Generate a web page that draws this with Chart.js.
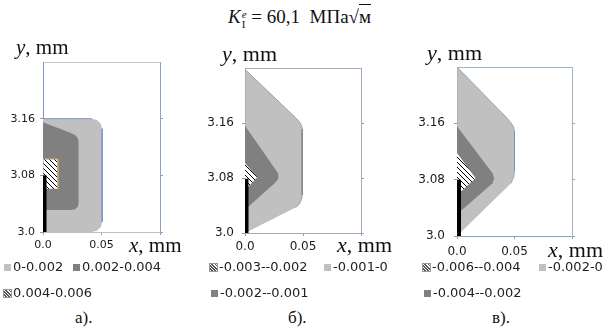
<!DOCTYPE html>
<html><head><meta charset="utf-8">
<script src="https://cdn.jsdelivr.net/npm/chart.js@4.4.0/dist/chart.umd.min.js"></script>
<style>
body{margin:0;width:605px;height:329px;background:#fff;position:relative;overflow:hidden;}
.abs{position:absolute;white-space:nowrap;}
.serif{font-family:"Liberation Serif","Times New Roman",serif;color:#111;}
.leg{font-family:"DejaVu Sans",sans-serif;font-size:13px;color:#222;line-height:16px;}
.sw{position:absolute;width:7px;height:7px;}
canvas{position:absolute;}
</style></head><body>

<canvas id="ca" width="200" height="215" style="left:0;top:40px"></canvas>
<canvas id="cb" width="200" height="215" style="left:200px;top:40px"></canvas>
<canvas id="cc" width="200" height="215" style="left:405px;top:40px"></canvas>

<div class="abs serif" style="left:228px;top:5px;font-size:19px;line-height:24px">
<i>K</i><span style="display:inline-block;vertical-align:middle;line-height:10px;font-size:11px;margin-left:1px"><i style="display:block">e</i><span style="display:block">I</span></span> = 60,1&nbsp; МПа√<span style="border-top:1px solid #111;padding-top:1px">м</span>
</div>

<div class="abs serif" style="left:16px;top:35px;font-size:21px;line-height:24px"><i>y</i>, mm</div>
<div class="abs serif" style="left:222px;top:41px;font-size:22px;line-height:26px"><i>y</i>, mm</div>
<div class="abs serif" style="left:427px;top:40px;font-size:22px;line-height:26px"><i>y</i>, mm</div>
<div class="abs serif" style="left:129px;top:232px;font-size:21px;line-height:26px"><i>x</i>, mm</div>
<div class="abs serif" style="left:337px;top:232px;font-size:22px;line-height:26px"><i>x</i>, mm</div>
<div class="abs serif" style="left:548px;top:237px;font-size:22px;line-height:26px"><i>x</i>, mm</div>

<div class="abs serif" style="left:75px;top:308px;font-size:17px;line-height:20px">а).</div>
<div class="abs serif" style="left:288px;top:308px;font-size:17px;line-height:20px">б).</div>
<div class="abs serif" style="left:492px;top:308px;font-size:17px;line-height:20px">в).</div>

<div id="legends"></div>

<script>
// ---- axes ----
const xRange = [0, 0.1];
const yRange = [3.0, 3.24];
const xTickValues = [0, 0.05, 0.1];
const xTickLabels = ['0.0', '0.05', ''];
const yTickValues = [3.0, 3.08, 3.16];
const yTickLabels = ['3.0', '3.08', '3.16'];

// ---- panel а) zones (x, y in mm) ----
const aLightZone = [[0,3.0],[0,3.16],[0.0416,3.16],[0.0461,3.1581],[0.0494,3.1529],[0.0506,3.1457],[0.0506,3.0143],[0.0494,3.0072],[0.0461,3.0019],[0.0416,3.0]];
const aDarkZone = [[0,3.031],[0,3.155],[0.0233,3.140],[0.0275,3.137],[0.0298,3.132],[0.0304,3.127],[0.0304,3.041],[0.0298,3.036],[0.0275,3.032],[0.0233,3.031]];
const aHatchZone = [[0,3.061],[0,3.103],[0.0127,3.103],[0.0127,3.061]];
const aEdgeTop = [[0,3.16],[0.0416,3.16]];
const aEdgeRight = [[0.0506,3.1457],[0.0506,3.0143]];
const aCrack = [[0,3.0],[0,3.08]];
const aLegend = ['0-0.002','0.002-0.004','0.004-0.006'];

// ---- panel б) zones ----
const bLightZone = [[0,3.0],[0,3.238],[0.0434,3.168],[0.0468,3.162],[0.0488,3.156],[0.0494,3.151],[0.0494,3.056],[0.0488,3.049],[0.0468,3.042],[0.0436,3.037]];
const bDarkZone = [[0,3.034],[0,3.156],[0.026,3.093],[0.0285,3.087],[0.029,3.083],[0.0285,3.079],[0.026,3.073]];
const bHatchZone = [[0,3.062],[0,3.102],[0.0105,3.081]];
const bEdgeRight = [[0.0494,3.151],[0.0494,3.056]];
const bCrack = [[0,3.0],[0,3.079]];
const bLegend = ['-0.003--0.002','-0.001-0','-0.002--0.001'];

// ---- panel в) zones ----
const cLightZone = [[0,3.0],[0,3.24],[0.0426,3.169],[0.0468,3.161],[0.0492,3.155],[0.05,3.148],[0.05,3.093],[0.0494,3.084],[0.047,3.075]];
const cDarkZone = [[0,3.031],[0,3.156],[0.0309,3.089],[0.0323,3.082],[0.0309,3.075]];
const cHatchZone = [[0,3.058],[0,3.118],[0.0162,3.082]];
const cEdgeRight = [[0.05,3.148],[0.05,3.093]];
const cCrack = [[0,3.0],[0,3.08]];
const cLegend = ['-0.006--0.004','-0.002-0','-0.004--0.002'];

// ---- styles ----
const LIGHT = '#c0c0c0', DARK = '#808080';
function makeHatch(){
  const t = document.createElement('canvas'); t.width = 5; t.height = 5;
  const g = t.getContext('2d');
  g.fillStyle = '#fff'; g.fillRect(0,0,5,5);
  g.strokeStyle = '#000'; g.lineWidth = 1;
  g.beginPath(); g.moveTo(-1,-1); g.lineTo(6,6); g.moveTo(-1,4); g.lineTo(1,6); g.moveTo(4,-1); g.lineTo(6,1); g.stroke();
  return g.createPattern(t, 'repeat');
}
const HATCH = makeHatch();
const pts = arr => arr.map(([x,y]) => ({x, y}));

function zone(arr, fillColor, border, order){
  return {data: pts(arr), fill: 'shape', backgroundColor: fillColor,
    borderColor: border ? border : 'rgba(0,0,0,0)', borderWidth: border ? 1 : 0,
    pointRadius: 0, tension: 0, order: order};
}
function edge(arr, color, order){
  return {data: pts(arr), fill: false, borderColor: color, borderWidth: 1, pointRadius: 0, order: order};
}

function makeChart(id, p){
  const sets = [
    zone(p.light, LIGHT, p.lightBorder, 6),
    zone(p.dark, DARK, null, 5),
    zone(p.hatch, HATCH, p.hatchBorder, 4)
  ];
  p.edges.forEach(e => sets.push(edge(e[0], e[1], 3)));
  sets.push({data: pts(p.crack), fill: false, borderColor: '#000', borderWidth: p.crackW, pointRadius: 0, order: 0, clip: 0});
  const tickFont = {family: 'DejaVu Sans', size: p.fs};
  return new Chart(document.getElementById(id), {
    type: 'line',
    data: {datasets: sets},
    options: {
      responsive: false, animation: false, devicePixelRatio: 1,
      layout: {padding: p.pad},
      plugins: {legend: {display: false}, tooltip: {enabled: false}},
      scales: {
        x: {type: 'linear', position: 'bottom', min: xRange[0], max: xRange[1],
          afterBuildTicks: s => { s.ticks = xTickValues.map(v => ({value: v})); },
          afterFit: s => { s.height = p.xh; },
          ticks: {callback: (v, i) => xTickLabels[i], font: tickFont, color: '#1a1a1a', padding: p.xpad, maxRotation: 0, autoSkip: false},
          grid: {drawOnChartArea: false, tickLength: 3, color: '#9a9a9a'},
          border: {color: p.cBottom}},
        x2: {type: 'linear', position: 'top', min: xRange[0], max: xRange[1],
          afterFit: s => { s.height = 0; },
          ticks: {display: false},
          grid: {drawOnChartArea: false, drawTicks: false},
          border: {color: p.cTop}},
        y: {type: 'linear', position: 'left', min: yRange[0], max: yRange[1],
          afterBuildTicks: s => { s.ticks = yTickValues.map(v => ({value: v})); },
          afterFit: s => { s.width = p.yw; },
          ticks: {callback: (v, i) => yTickLabels[i], font: tickFont, color: '#1a1a1a', padding: p.ypad, autoSkip: false},
          grid: {drawOnChartArea: false, tickLength: 3, color: '#9a9a9a'},
          border: {color: p.cLeft}},
        y2: {type: 'linear', position: 'right', min: yRange[0], max: yRange[1],
          afterBuildTicks: s => { s.ticks = yTickValues.map(v => ({value: v})); },
          afterFit: s => { s.width = 4; },
          ticks: {display: false},
          grid: {drawOnChartArea: false, tickLength: 3, color: '#9a9a9a'},
          border: {color: p.cRight}}
      }
    }
  });
}

makeChart('ca', {light: aLightZone, dark: aDarkZone, hatch: aHatchZone, crack: aCrack,
  edges: [[aEdgeTop, '#7d97c4'], [aEdgeRight, '#7d97c4']], hatchBorder: '#c9a77a', crackW: 7,
  fs: 11, yw: 43, xh: 20, ypad: 5, xpad: 4,
  pad: {left: 0, right: 36, top: 22, bottom: 3},
  cLeft: '#7d97c4', cTop: '#c8c8c8', cRight: '#8ea2c4', cBottom: '#c0c0c0'});

makeChart('cb', {light: bLightZone, dark: bDarkZone, hatch: bHatchZone, crack: bCrack, lightBorder: '#a0a0a0',
  edges: [[bEdgeRight, '#888888']], crackW: 7,
  fs: 12, yw: 45, xh: 20, ypad: 8, xpad: 4,
  pad: {left: 0, right: 35, top: 28, bottom: 2},
  cLeft: '#a9a6c0', cTop: '#a9a6c0', cRight: '#a9a6c0', cBottom: '#a9a6c0'});

makeChart('cc', {light: cLightZone, dark: cDarkZone, hatch: cHatchZone, crack: cCrack, lightBorder: '#98a8b8',
  edges: [[cEdgeRight, '#6f8fc0']], crackW: 8,
  fs: 12, yw: 52, xh: 19, ypad: 9, xpad: 6,
  pad: {left: 0, right: 29, top: 27, bottom: 0},
  cLeft: '#9cb3c6', cTop: '#9cb3c6', cRight: '#a8b4c4', cBottom: '#7fa7bd'});

// ---- legends (HTML) ----
const swatchCss = {
  light: 'background:#c0c0c0',
  dark: 'background:#808080',
  hatch: 'background:repeating-linear-gradient(45deg,#fff 0 1.2px,#555 1.2px 2.2px);outline:1px solid #999'
};
const legendLayout = [
  {labels: aLegend, kinds: ['light','dark','hatch'], pos: [[4,259],[73,259],[4,285]]},
  {labels: bLegend, kinds: ['hatch','light','dark'], pos: [[210,259],[324,259],[211,285]]},
  {labels: cLegend, kinds: ['hatch','light','dark'], pos: [[423,259],[539,259],[424,285]]}
];
const host = document.getElementById('legends');
legendLayout.forEach(g => g.labels.forEach((lab, i) => {
  const [x, y] = g.pos[i];
  const sw = document.createElement('div');
  sw.className = 'sw'; sw.style.cssText = 'left:' + x + 'px;top:' + (y + 5) + 'px;' + swatchCss[g.kinds[i]];
  host.appendChild(sw);
  const t = document.createElement('div');
  t.className = 'abs leg'; t.style.left = (x + 9) + 'px'; t.style.top = y + 'px';
  t.textContent = lab;
  host.appendChild(t);
}));
</script>
</body></html>
